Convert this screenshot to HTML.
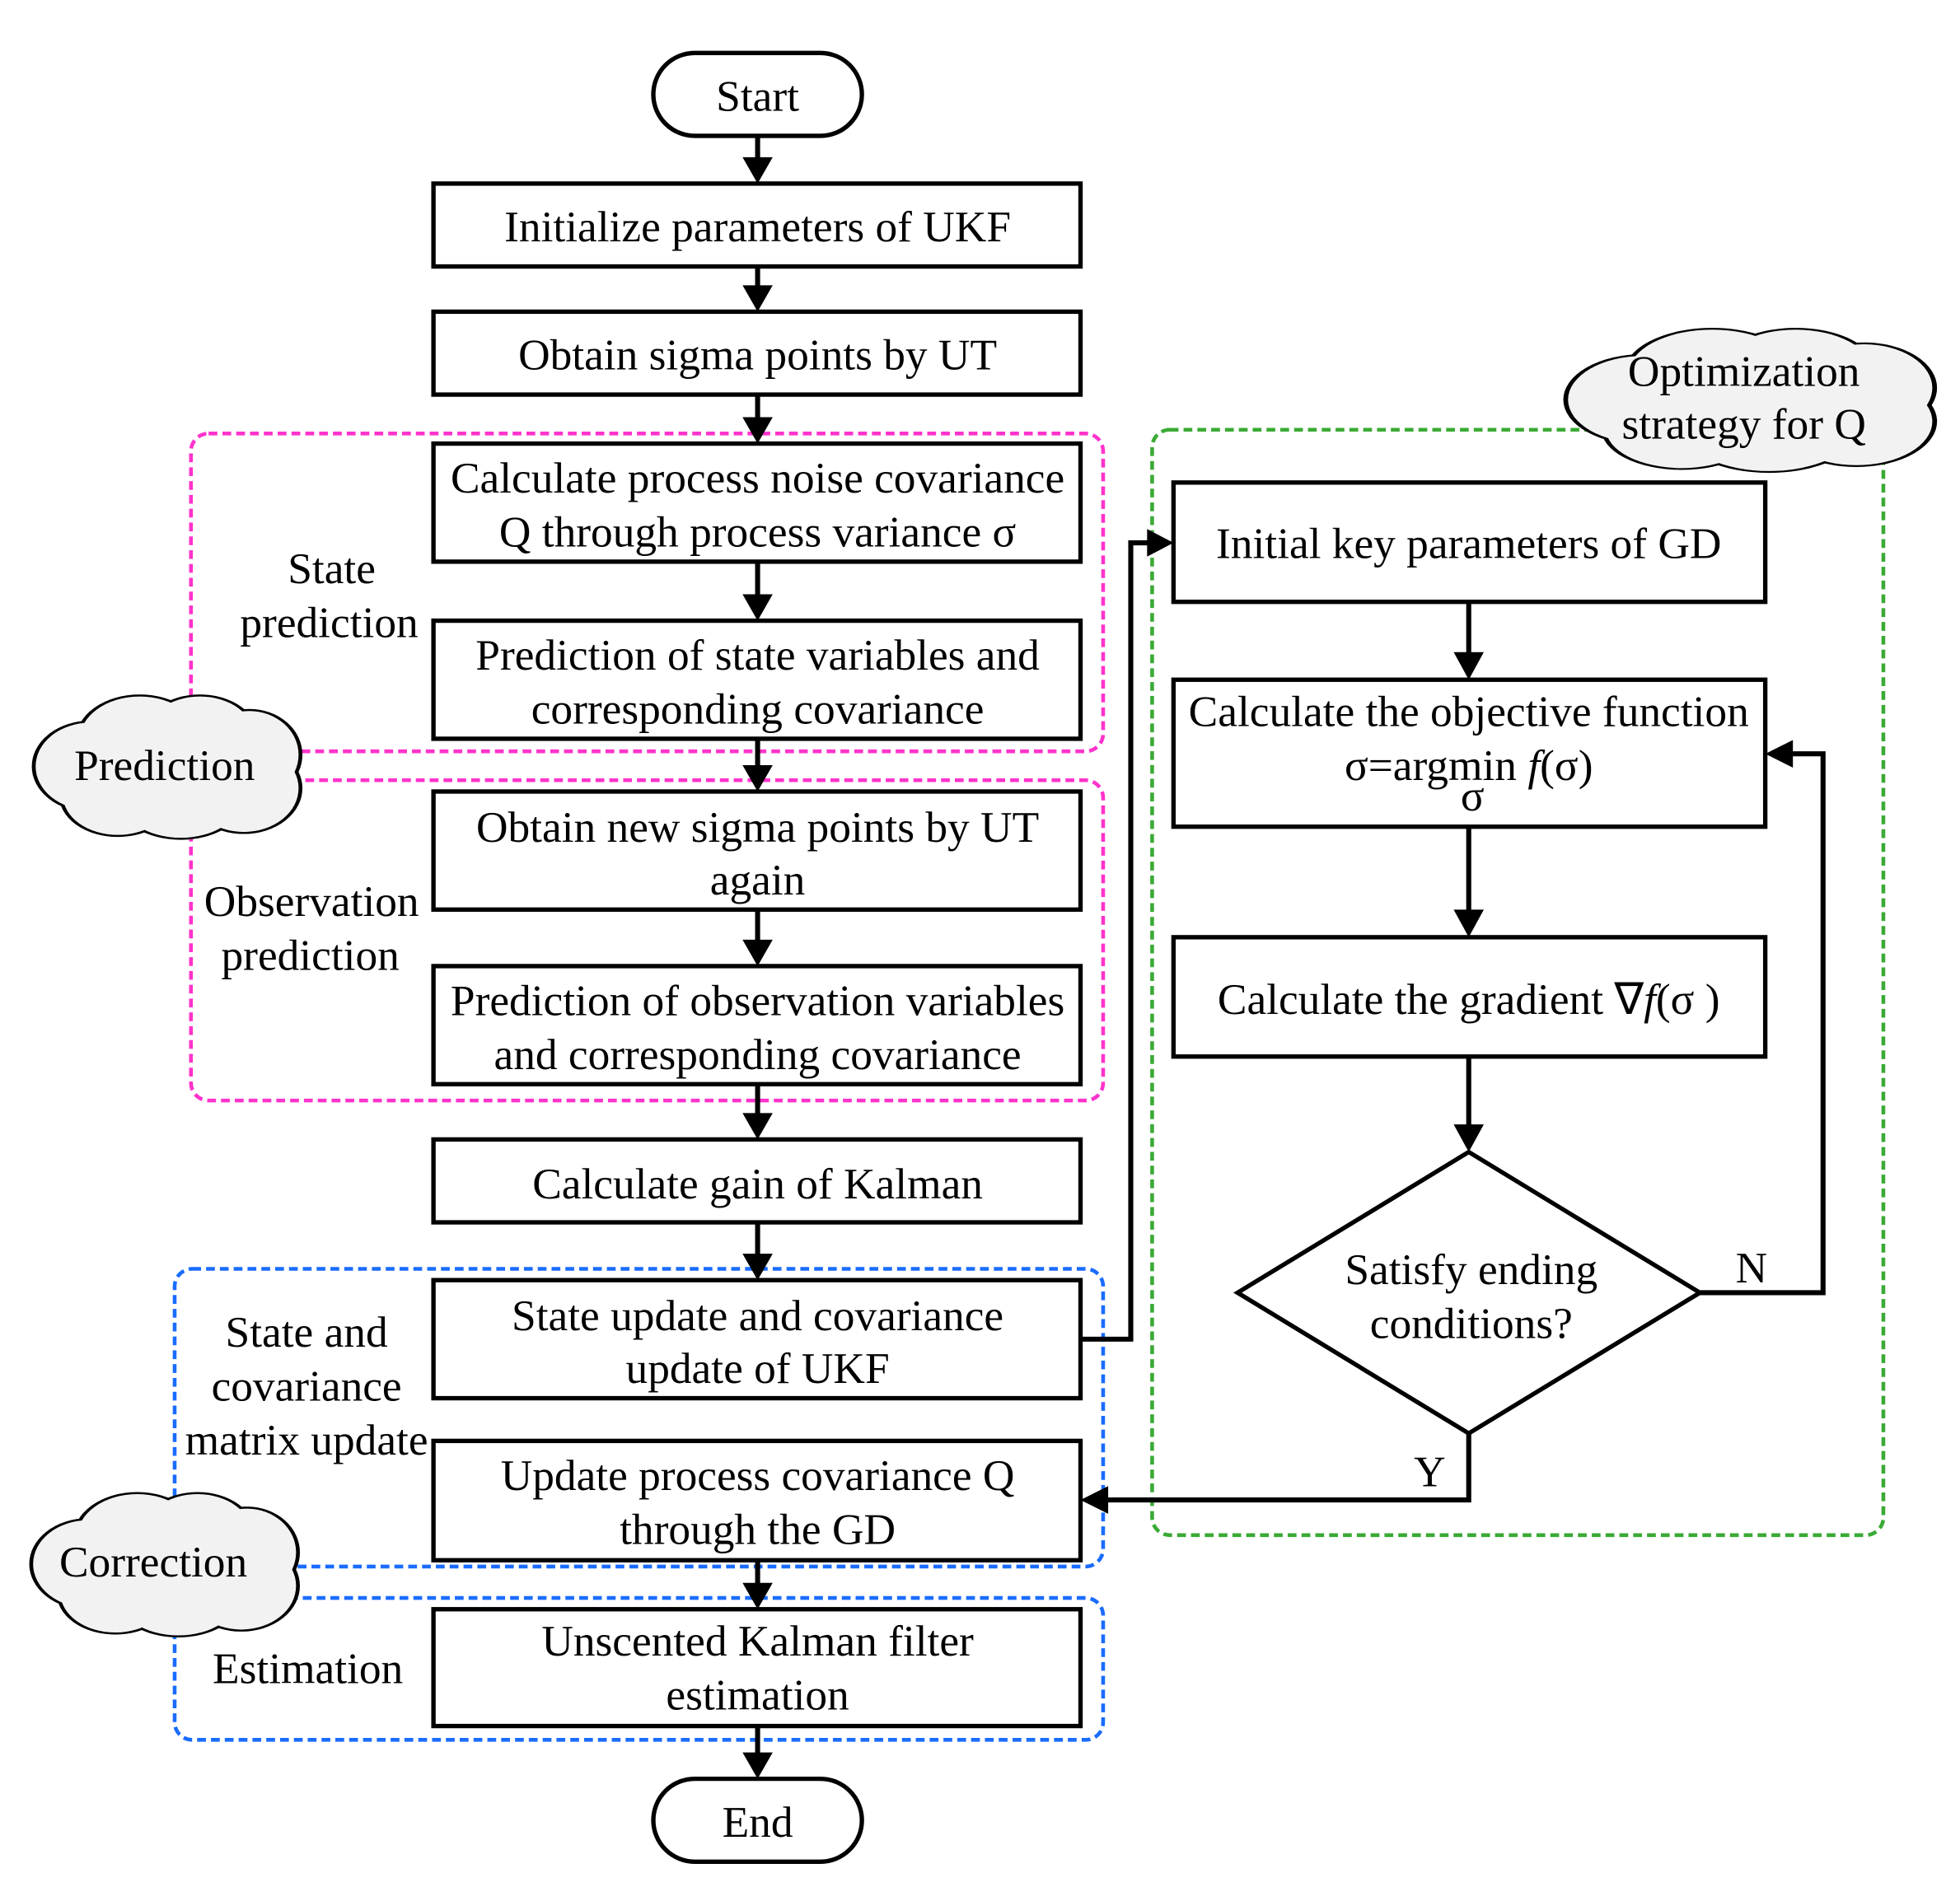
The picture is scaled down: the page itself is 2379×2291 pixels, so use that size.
<!DOCTYPE html>
<html><head><meta charset="utf-8"><style>html,body{margin:0;padding:0;background:#fff}svg{display:block}</style></head>
<body>
<svg width="2379" height="2291" viewBox="0 0 1560 1502" xmlns="http://www.w3.org/2000/svg" font-family="'Liberation Serif', serif" font-size="35">
<defs>
<g id="cl">
<ellipse cx="0.22" cy="0.5" rx="0.2" ry="0.3"/>
<ellipse cx="0.4" cy="0.32" rx="0.22" ry="0.3"/>
<ellipse cx="0.62" cy="0.3" rx="0.2" ry="0.28"/>
<ellipse cx="0.8" cy="0.42" rx="0.18" ry="0.3"/>
<ellipse cx="0.78" cy="0.65" rx="0.2" ry="0.3"/>
<ellipse cx="0.55" cy="0.72" rx="0.22" ry="0.27"/>
<ellipse cx="0.32" cy="0.7" rx="0.2" ry="0.27"/>
<ellipse cx="0.5" cy="0.5" rx="0.4" ry="0.3"/>
</g>
</defs>
<rect width="1560" height="1502" fill="#fff"/>

<g fill="none" stroke-width="3" stroke-dasharray="7,4">
<rect x="152" y="345" width="726" height="253" rx="14" stroke="#ff33cc"/>
<rect x="152" y="621" width="726" height="255" rx="14" stroke="#ff33cc"/>
<rect x="139" y="1010" width="739" height="237" rx="14" stroke="#1a6cff"/>
<rect x="139" y="1272" width="739" height="113" rx="14" stroke="#1a6cff"/>
<rect x="917" y="342" width="582" height="880" rx="14" stroke="#3aaa35"/>
</g>

<g stroke="#000" stroke-width="4" fill="none">
<line x1="603" y1="108" x2="603" y2="128"/>
<line x1="603" y1="212" x2="603" y2="230"/>
<line x1="603" y1="314" x2="603" y2="335"/>
<line x1="603" y1="447" x2="603" y2="476"/>
<line x1="603" y1="588" x2="603" y2="612"/>
<line x1="603" y1="724" x2="603" y2="751"/>
<line x1="603" y1="863" x2="603" y2="889"/>
<line x1="603" y1="973" x2="603" y2="1001"/>
<line x1="603" y1="1242" x2="603" y2="1263"/>
<line x1="603" y1="1374" x2="603" y2="1398"/>
<line x1="1169" y1="479" x2="1169" y2="522"/>
<line x1="1169" y1="658" x2="1169" y2="727"/>
<line x1="1169" y1="841" x2="1169" y2="898"/>
<polyline points="860,1066 900,1066 900,432 916,432"/>
<polyline points="1353,1029 1451,1029 1451,600 1424,600"/>
<polyline points="1169,1141 1169,1194 879,1194"/>
</g>
<g fill="#000">
<polygon points="591,125 615,125 603,146"/>
<polygon points="591,227 615,227 603,248"/>
<polygon points="591,332 615,332 603,353"/>
<polygon points="591,473 615,473 603,494"/>
<polygon points="591,609 615,609 603,630"/>
<polygon points="591,748 615,748 603,769"/>
<polygon points="591,886 615,886 603,907"/>
<polygon points="591,998 615,998 603,1019"/>
<polygon points="591,1260 615,1260 603,1281"/>
<polygon points="591,1395 615,1395 603,1416"/>
<polygon points="1157,519 1181,519 1169,541"/>
<polygon points="1157,724 1181,724 1169,746"/>
<polygon points="1157,895 1181,895 1169,917"/>
<polygon points="913,421 913,443 934,432"/>
<polygon points="1427,589 1427,611 1405,600"/>
<polygon points="882,1183 882,1205 860,1194"/>
</g>

<g fill="#fff" stroke="#000" stroke-width="3.5">
<rect x="520" y="42" width="166" height="66" rx="33"/>
<rect x="520" y="1416" width="166" height="66" rx="33"/>
<rect x="345" y="146" width="515" height="66"/>
<rect x="345" y="248" width="515" height="66"/>
<rect x="345" y="353" width="515" height="94"/>
<rect x="345" y="494" width="515" height="94"/>
<rect x="345" y="630" width="515" height="94"/>
<rect x="345" y="769" width="515" height="94"/>
<rect x="345" y="907" width="515" height="66"/>
<rect x="345" y="1019" width="515" height="94"/>
<rect x="345" y="1147" width="515" height="95"/>
<rect x="345" y="1281" width="515" height="93"/>
<rect x="934" y="384" width="471" height="95"/>
<rect x="934" y="541" width="471" height="117"/>
<rect x="934" y="746" width="471" height="95"/>
<polygon points="1169,917 1353,1029 1169,1141 985,1029"/>
</g>

<g transform="translate(24,552) scale(218,116)">
<use href="#cl" fill="#000" stroke="#000" stroke-width="0.028"/>
<use href="#cl" fill="#f2f2f2"/>
</g>
<g transform="translate(22,1187) scale(218,116)">
<use href="#cl" fill="#000" stroke="#000" stroke-width="0.028"/>
<use href="#cl" fill="#f2f2f2"/>
</g>
<g transform="translate(1242,260) scale(302,116)">
<use href="#cl" fill="#000" stroke="#000" stroke-width="0.025"/>
<use href="#cl" fill="#f2f2f2"/>
</g>

<g text-anchor="middle" fill="#000">
<text x="603" y="88">Start</text>
<text x="603" y="1462">End</text>
<text x="603" y="192">Initialize parameters of UKF</text>
<text x="603" y="294">Obtain sigma points by UT</text>
<text x="603" y="392">Calculate process noise covariance</text>
<text x="603" y="435">Q through  process variance σ</text>
<text x="603" y="533">Prediction of state variables and</text>
<text x="603" y="576">corresponding covariance</text>
<text x="603" y="670">Obtain new sigma points by UT</text>
<text x="603" y="712">again</text>
<text x="603" y="808">Prediction of observation variables</text>
<text x="603" y="851">and corresponding covariance</text>
<text x="603" y="954">Calculate gain of Kalman</text>
<text x="603" y="1059">State update and covariance</text>
<text x="603" y="1101">update of UKF</text>
<text x="603" y="1186">Update process covariance Q</text>
<text x="603" y="1229">through the GD</text>
<text x="603" y="1318">Unscented Kalman filter</text>
<text x="603" y="1361">estimation</text>
<text x="1169" y="444">Initial key parameters of GD</text>
<text x="1169" y="578">Calculate the objective function</text>
<text x="1169" y="621">σ=argmin <tspan font-style="italic">f</tspan>(σ)</text>
<text x="1172" y="645">σ</text>
<text x="1169" y="807">Calculate the gradient ∇<tspan font-style="italic">f</tspan>(σ )</text>
<text x="1171" y="1022">Satisfy ending</text>
<text x="1171" y="1065">conditions?</text>
<text x="1394" y="1021">N</text>
<text x="1138" y="1183">Y</text>
<text x="264" y="464">State</text>
<text x="262" y="507">prediction</text>
<text x="248" y="729">Observation</text>
<text x="247" y="772">prediction</text>
<text x="244" y="1072">State and</text>
<text x="244" y="1115">covariance</text>
<text x="244" y="1158">matrix update</text>
<text x="245" y="1340">Estimation</text>
<text x="131" y="621">Prediction</text>
<text x="122" y="1255">Correction</text>
<text x="1388" y="307">Optimization</text>
<text x="1388" y="349">strategy for Q</text>
</g>
</svg>
</body></html>
